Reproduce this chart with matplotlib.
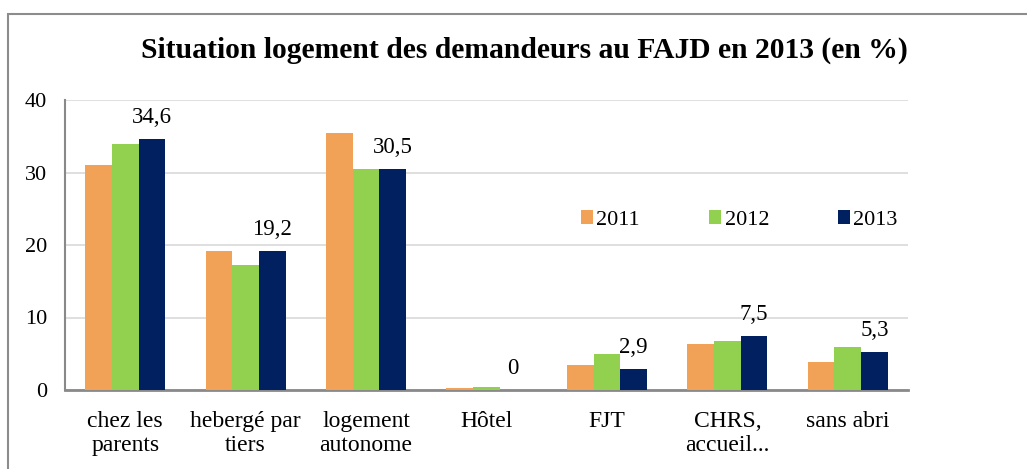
import matplotlib
matplotlib.use("Agg")
import matplotlib.pyplot as plt
import numpy as np
from matplotlib.patches import Rectangle

categories = ["chez les\nparents", "hebergé par\ntiers", "logement\nautonome", "Hôtel", "FJT", "CHRS,\naccueil...", "sans abri"]
years = ["2011", "2012", "2013"]
v2011 = [31.0, 19.2, 35.5, 0.25, 3.5, 6.3, 3.8]
v2012 = [33.9, 17.2, 30.5, 0.45, 4.9, 6.7, 6.0]
v2013 = [34.6, 19.2, 30.5, 0.0, 2.9, 7.5, 5.3]
labels2013 = ["34,6", "19,2", "30,5", "0", "2,9", "7,5", "5,3"]
colors = ["#F2A257", "#92D050", "#002060"]
title = "Situation logement des demandeurs au FAJD en 2013 (en %)"

plt.rcParams['font.family'] = ['Liberation Serif', 'DejaVu Serif']

W, H = 1027, 469
fig = plt.figure(figsize=(W/100, H/100), dpi=100)
ax = fig.add_axes([65/W, 1-390/H, (908-65)/W, 290/H])

x = np.arange(len(categories))
bw = 0.222
series = [v2011, v2012, v2013]
for i, (vals, c, yr) in enumerate(zip(series, colors, years)):
    ax.bar(x + (i-1)*bw, vals, width=bw, color=c, label=yr, zorder=3)

for xi, v, lab in zip(x, v2013, labels2013):
    ax.annotate(lab, (xi + bw, v), xytext=(0, 11.5), textcoords="offset points",
                ha="center", va="baseline", fontsize=16.5, color="#000000", zorder=4)

ax.set_xlim(-0.5, len(categories)-0.5)
ax.set_ylim(0, 40)
ax.set_yticks([0, 10, 20, 30, 40])
ax.set_xticks(x)
ax.set_xticklabels(categories, fontsize=17, linespacing=1.2)
ax.tick_params(axis='y', length=0, pad=13, labelsize=16)
ax.tick_params(axis='x', length=0, pad=15)
ax.grid(axis='y', color="#D9D9D9", linewidth=1.2, zorder=0)
ax.set_axisbelow(True)
for s in ['top', 'right']:
    ax.spines[s].set_visible(False)
ax.spines['left'].set_color("#898989")
ax.spines['left'].set_linewidth(1.5)
ax.spines['bottom'].set_color("#898989")
ax.spines['bottom'].set_linewidth(2)

leg = ax.legend(loc='center', bbox_to_anchor=(0.800, 0.586), ncol=3, frameon=False,
                fontsize=16, handlelength=0.55, handleheight=0.55, handletextpad=0.15,
                columnspacing=3.1, borderpad=0)

fig.text(524/W, 1-50/H, title, ha='center', va='center', fontsize=21.3, fontweight='bold')

fig.patches.append(Rectangle((8/W, -0.1), 1.2, 1-14/H+0.1, transform=fig.transFigure,
                             fill=False, edgecolor="#8C8C8C", linewidth=1.5))

fig.savefig("out.png", dpi=100)
